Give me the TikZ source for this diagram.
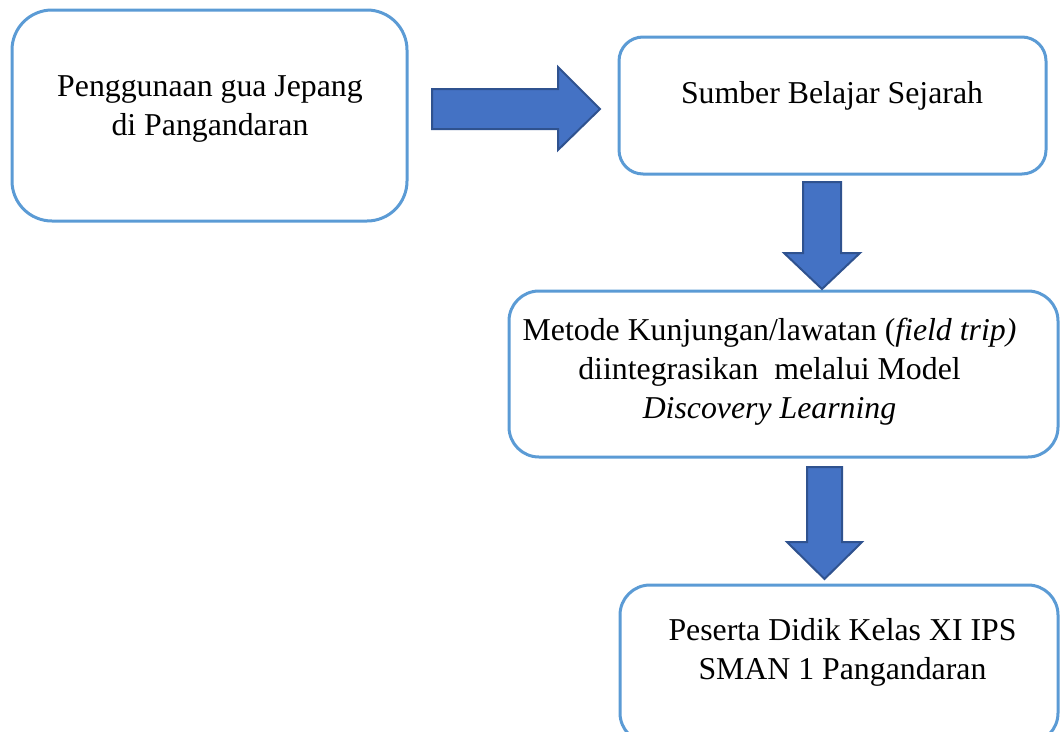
\documentclass[tikz,border=0pt]{standalone}
\usepackage{fontspec}
\setmainfont{Liberation Serif}
\definecolor{boxblue}{HTML}{5B9BD5}
\definecolor{arrfill}{HTML}{4472C4}
\definecolor{arrline}{HTML}{2F528F}
\tikzset{
  panel/.style={draw=boxblue, line width=3pt, fill=white},
  blockarrow/.style={fill=arrfill, draw=arrline, line width=2pt, line join=miter},
  label/.style={font=\fontsize{31.8}{39}\selectfont, align=center, anchor=base, inner sep=0pt}
}
\begin{document}
\begin{tikzpicture}[x=1pt,y=-1pt]
\useasboundingbox (0,0) rectangle (1060,731);
\clip (0,0) rectangle (1060,731);
% boxes
\draw[panel, rounded corners=40pt] (12,10) rectangle (407,221);
\draw[panel, rounded corners=24pt] (619,37) rectangle (1046,174);
\draw[panel, rounded corners=30pt] (509,291) rectangle (1058,457);
\draw[panel, rounded corners=30pt] (620,585) rectangle (1058,743);
% texts (anchor = baseline of last line)
\node[label] (t1) at (210,135) {Penggunaan gua Jepang\\di Pangandaran};
\node[label] (t2) at (832,103) {Sumber Belajar Sejarah};
\node[label] (t3) at (769.5,418) {Metode Kunjungan/lawatan (\textit{field trip)}\\diintegrasikan\ \ melalui Model\\\textit{Discovery Learning}};
\node[label] (t4) at (842.5,679) {Peserta Didik Kelas XI IPS\\SMAN 1 Pangandaran};
% block arrows
\draw[blockarrow] (432,89) -- (558,89) -- (558,67) -- (600,109) -- (558,150) -- (558,129) -- (432,129) -- cycle;
\draw[blockarrow] (803,182) -- (841,182) -- (841,253) -- (860,253) -- (822,289) -- (784,253) -- (803,253) -- cycle;
\draw[blockarrow] (807,467) -- (842,467) -- (842,542) -- (862,542) -- (824.5,579) -- (787,542) -- (807,542) -- cycle;
\end{tikzpicture}
\end{document}
